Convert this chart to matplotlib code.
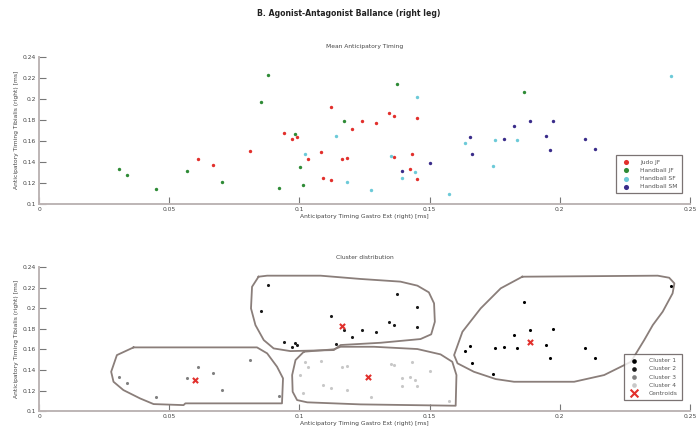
import matplotlib
matplotlib.use("Agg")
import matplotlib.pyplot as plt
import numpy as np
from matplotlib.ticker import FormatStrFormatter

# anticipatory timing per subject: gastro ext (x) vs tibialis (y), right leg
groups = ["Judo JF", "Handball JF", "Handball SF", "Handball SM"]

judo_jf_x = [0.0610, 0.0669, 0.0810, 0.0941, 0.0970, 0.0992, 0.1032, 0.1082, 0.1092,
             0.1120, 0.1120, 0.1162, 0.1183, 0.1203, 0.1242, 0.1294, 0.1343, 0.1363,
             0.1363, 0.1423, 0.1433, 0.1453, 0.1453]
judo_jf_y = [0.1425, 0.1368, 0.1500, 0.1673, 0.1619, 0.1638, 0.1425, 0.1489, 0.1250,
             0.1229, 0.1920, 0.1425, 0.1438, 0.1717, 0.1790, 0.1765, 0.1863, 0.1832,
             0.1444, 0.1330, 0.1473, 0.1819, 0.1241]
judo_jf_cl = [3, 3, 3, 2, 2, 2, 4, 4, 4, 4, 2, 4, 4, 2, 2, 2, 2, 2, 4, 4, 4, 2, 4]

hb_jf_x = [0.0309, 0.0338, 0.0450, 0.0569, 0.0701, 0.0851, 0.0881, 0.0922, 0.0982,
           0.1001, 0.1012, 0.1170, 0.1373, 0.1862]
hb_jf_y = [0.1333, 0.1273, 0.1140, 0.1317, 0.1203, 0.1970, 0.2229, 0.1150, 0.1664,
           0.1350, 0.1178, 0.1790, 0.2140, 0.2063]
hb_jf_cl = [3, 3, 3, 3, 3, 2, 2, 3, 2, 4, 4, 2, 2, 1]

hb_sf_x = [0.1022, 0.1142, 0.1183, 0.1273, 0.1353, 0.1394, 0.1444, 0.1453, 0.1576,
           0.1636, 0.1743, 0.1751, 0.1835, 0.2428]
hb_sf_y = [0.1479, 0.1648, 0.1203, 0.1133, 0.1457, 0.1248, 0.1302, 0.2013, 0.1098,
           0.1581, 0.1356, 0.1610, 0.1610, 0.2213]
hb_sf_cl = [4, 2, 4, 4, 4, 4, 4, 2, 4, 1, 1, 1, 1, 1]

hb_sm_x = [0.1394, 0.1503, 0.1654, 0.1664, 0.1786, 0.1824, 0.1885, 0.1945, 0.1964,
           0.1974, 0.2096, 0.2135]
hb_sm_y = [0.1317, 0.1390, 0.1632, 0.1470, 0.1619, 0.1740, 0.1784, 0.1641, 0.1514,
           0.1793, 0.1613, 0.1520]
hb_sm_cl = [4, 4, 1, 1, 1, 1, 1, 1, 1, 1, 1, 1]

group_colors = ["#e2302c", "#2e8b36", "#6ccad8", "#3a2c8a"]

cluster_names = ["Cluster 1", "Cluster 2", "Cluster 3", "Cluster 4"]
cluster_colors = ["#000000", "#1a1a1a", "#808080", "#c8c8c8"]

# hand-drawn cluster boundaries (data units)
outline_left_x = [0.0363, 0.0299, 0.0277, 0.0286, 0.0324, 0.0388, 0.0440, 0.0555, 0.0562,
                  0.0933, 0.0937, 0.0914, 0.0876, 0.0837, 0.0363]
outline_left_y = [0.1619, 0.1544, 0.1382, 0.1285, 0.1204, 0.1123, 0.1068, 0.1058, 0.1075,
                  0.1075, 0.1318, 0.1431, 0.1561, 0.1619, 0.1619]
outline_upper_x = [0.0843, 0.0818, 0.0814, 0.0831, 0.0863, 0.0901, 0.0965, 0.1132, 0.1158,
                   0.1312, 0.1465, 0.1506, 0.1520, 0.1517, 0.1497, 0.1453, 0.1388, 0.1235,
                   0.1081, 0.0876, 0.0843]
outline_upper_y = [0.2306, 0.2208, 0.1998, 0.1836, 0.1690, 0.1609, 0.1583, 0.1593, 0.1642,
                   0.1664, 0.1700, 0.1746, 0.1868, 0.2047, 0.2154, 0.2219, 0.2258, 0.2284,
                   0.2316, 0.2316, 0.2306]
outline_lower_x = [0.1017, 0.0985, 0.0972, 0.0974, 0.0991, 0.1030, 0.1235, 0.1600, 0.1603,
                   0.1587, 0.1542, 0.1453, 0.1286, 0.1158, 0.1132, 0.1017]
outline_lower_y = [0.1577, 0.1496, 0.1350, 0.1188, 0.1107, 0.1085, 0.1065, 0.1052, 0.1350,
                   0.1479, 0.1551, 0.1603, 0.1625, 0.1625, 0.1600, 0.1577]
outline_right_x = [0.1856, 0.1773, 0.1696, 0.1626, 0.1594, 0.1607, 0.1670, 0.1754, 0.1824,
                   0.2055, 0.2170, 0.2273, 0.2324, 0.2357, 0.2395, 0.2433, 0.2440, 0.2420,
                   0.2376, 0.1856]
outline_right_y = [0.2306, 0.2193, 0.1998, 0.1771, 0.1544, 0.1464, 0.1382, 0.1311, 0.1285,
                   0.1285, 0.1350, 0.1479, 0.1690, 0.1836, 0.1966, 0.2144, 0.2241, 0.2296,
                   0.2316, 0.2306]

xticks = [0, 0.05, 0.1, 0.15, 0.2, 0.25]
yticks = [0.1, 0.12, 0.14, 0.16, 0.18, 0.2, 0.22, 0.24]

xs = [judo_jf_x, hb_jf_x, hb_sf_x, hb_sm_x]
ys = [judo_jf_y, hb_jf_y, hb_sf_y, hb_sm_y]
cls = [judo_jf_cl, hb_jf_cl, hb_sf_cl, hb_sm_cl]

all_x = np.concatenate([np.array(v) for v in xs])
all_y = np.concatenate([np.array(v) for v in ys])
all_cl = np.concatenate([np.array(v) for v in cls])

plt.rcParams['font.family'] = ['DejaVu Sans']
fs = 4.3
axis_gray = "#bdb5b5"

fig = plt.figure(figsize=(6.97, 4.30), dpi=100)
ax1 = fig.add_axes([0.056, 0.526, 0.934, 0.342])
ax2 = fig.add_axes([0.056, 0.044, 0.934, 0.335])

fig.text(0.5, 1 - 14 / 430, "B. Agonist-Antagonist Ballance (right leg)",
         ha="center", va="center", fontsize=5.6, fontweight="bold", color="#222222")


def style_axes(ax, title):
    ax.set_xlim(0, 0.25)
    ax.set_ylim(0.1, 0.24)
    ax.set_xticks(xticks)
    ax.set_yticks(yticks)
    ax.xaxis.set_major_formatter(FormatStrFormatter('%g'))
    ax.yaxis.set_major_formatter(FormatStrFormatter('%g'))
    ax.tick_params(direction="in", length=5, width=0.8, color="#777777",
                   labelsize=fs, labelcolor="#444444", pad=2)
    for side in ["top", "right"]:
        ax.spines[side].set_visible(False)
    for side in ["left", "bottom"]:
        ax.spines[side].set_color(axis_gray)
        ax.spines[side].set_linewidth(1.4)
    ax.set_title(title, fontsize=fs, color="#444444", pad=6)
    ax.set_xlabel("Anticipatory Timing Gastro Ext (right) [ms]", fontsize=fs,
                  color="#444444", labelpad=1.5)
    ax.set_ylabel("Anticipatory Timing Tibialis (right) [ms]", fontsize=fs,
                  color="#444444", labelpad=3)


# top: subjects coloured by team
for name, gx, gy, col in zip(groups, xs, ys, group_colors):
    ax1.scatter(gx, gy, s=6, color=col, label=name, linewidths=0, zorder=3)
style_axes(ax1, "Mean Anticipatory Timing")
leg1 = ax1.legend(loc="lower right", bbox_to_anchor=(0.992, 0.05), fontsize=fs,
                  fancybox=False, edgecolor="#5a5050", markerscale=1.5,
                  handletextpad=1.4, borderpad=0.7, labelspacing=0.5)
leg1.get_frame().set_linewidth(0.9)
for t in leg1.get_texts():
    t.set_color("#555555")

# bottom: k-means clusters with centroids
for outx, outy in [(outline_left_x, outline_left_y), (outline_upper_x, outline_upper_y),
                   (outline_lower_x, outline_lower_y), (outline_right_x, outline_right_y)]:
    ax2.plot(outx, outy, color="#8a7e7a", linewidth=1.3, zorder=2)

cent_x = []
cent_y = []
for k, (name, col) in enumerate(zip(cluster_names, cluster_colors), start=1):
    mask = all_cl == k
    ax2.scatter(all_x[mask], all_y[mask], s=5, color=col, label=name,
                linewidths=0, zorder=3)
    cent_x.append(all_x[mask].mean())
    cent_y.append(all_y[mask].mean())
ax2.scatter(cent_x, cent_y, marker="x", s=14, color="#e2302c", linewidths=1.5,
            label="Centroids", zorder=4)
style_axes(ax2, "Cluster distribution")
leg2 = ax2.legend(loc="lower right", bbox_to_anchor=(0.992, 0.056), fontsize=fs,
                  fancybox=False, edgecolor="#5a5050", markerscale=1.5,
                  handletextpad=1.4, borderpad=0.7, labelspacing=0.5)
leg2.get_frame().set_linewidth(0.9)
for t in leg2.get_texts():
    t.set_color("#555555")

fig.savefig("out.png", dpi=100)
